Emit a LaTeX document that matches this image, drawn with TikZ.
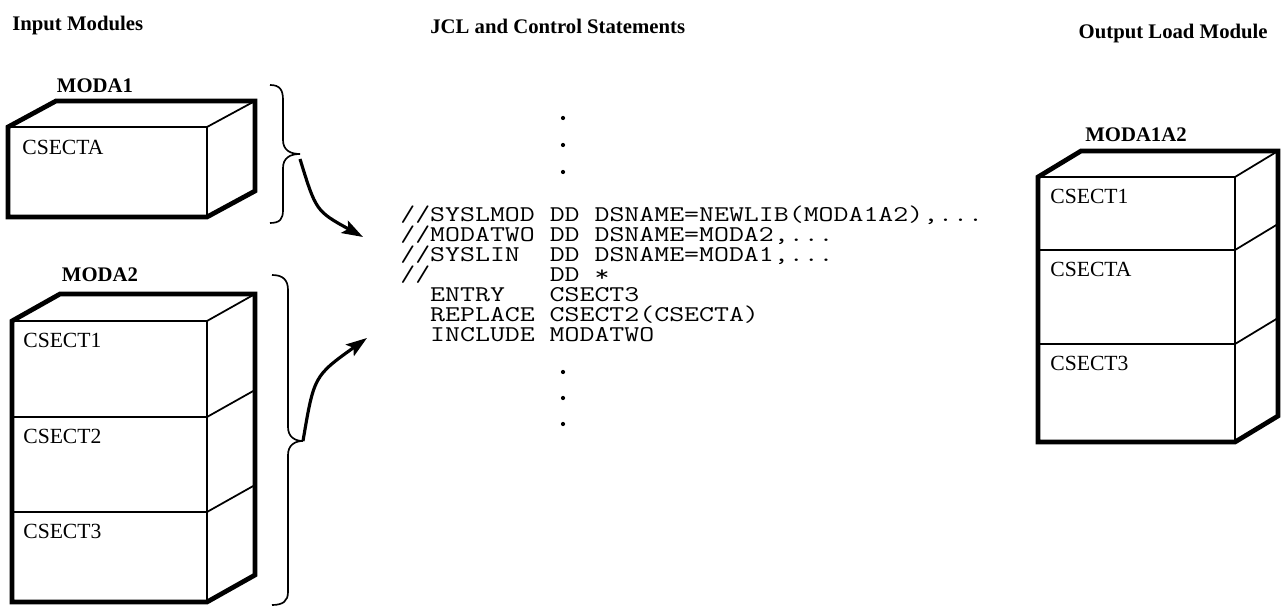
\documentclass[tikz,border=0pt]{standalone}
\usepackage{fontspec}
\usepackage{graphicx}
\setmainfont{Liberation Serif}
\usetikzlibrary{arrows.meta}
\newcommand\cw[1]{\scalebox{1.29}[1]{#1}}
\begin{document}
\begin{tikzpicture}[x=0.02cm,y=-0.02cm,
  outline/.style={line width=2.7pt, line join=miter},
  topedge/.style={line width=1.7pt},
  inner/.style={line width=1pt},
  hdr/.style={font=\bfseries\fontsize{11.8}{13}\selectfont, inner sep=0pt},
  ttl/.style={font=\bfseries\fontsize{11.8}{14}\selectfont, inner sep=0pt},
  sect/.style={font=\fontsize{12.3}{14}\selectfont, inner sep=0pt, anchor=west},
  code/.style={font=\ttfamily\fontsize{12.8}{15}\selectfont, inner sep=0pt, anchor=base west, text height=8pt, text depth=1.5pt},
  brace/.style={line width=0.95pt},
  flow/.style={line width=1.8pt, -{Stealth[length=12pt,width=8pt,inset=2.5pt]}},
  dot/.style={fill=black}
]
\useasboundingbox (0,0) rectangle (1284,607);

% headers
\node[hdr, anchor=west] (hin) at (12,26) {Input Modules};
\node[hdr, anchor=west] (hjcl) at (430,26) {JCL and Control Statements};
\node[hdr, anchor=east] (hout) at (1268,34) {Output Load Module};

% MODA1 box
\draw[inner] (207,127) -- (255,101);
\draw[inner] (207,127) -- (207,217);
\draw[topedge] (8,127) -- (207,127);
\draw[outline] (8,217) -- (8,127) -- (56,101) -- (255,101) -- (255,191) -- (207,217) -- cycle;
\node[ttl] (m1) at (95,86) {MODA1};
\node[sect] (m1a) at (22,147) {CSECTA};

% MODA2 box
\draw[inner] (207,321) -- (255,294);
\draw[inner] (207,321) -- (207,602);
\draw[inner] (12,417) -- (207,417) -- (255,390);
\draw[inner] (12,512) -- (207,512) -- (255,485);
\draw[topedge] (12,321) -- (207,321);
\draw[outline] (12,602) -- (12,321) -- (60,294) -- (255,294) -- (255,575) -- (207,602) -- cycle;
\node[ttl] (m2) at (100,275) {MODA2};
\node[sect] (m2a) at (23,340) {CSECT1};
\node[sect] (m2b) at (23,436) {CSECT2};
\node[sect] (m2c) at (23,531) {CSECT3};

% MODA1A2 box
\draw[inner] (1235,177) -- (1278,151);
\draw[inner] (1235,177) -- (1235,442);
\draw[inner] (1038,250) -- (1235,250) -- (1278,224);
\draw[inner] (1038,344) -- (1235,344) -- (1278,318);
\draw[topedge] (1038,177) -- (1235,177);
\draw[outline] (1038,442) -- (1038,177) -- (1081,151) -- (1278,151) -- (1278,416) -- (1235,442) -- cycle;
\node[ttl] (m3) at (1136,135) {MODA1A2};
\node[sect] (m3a) at (1050,196) {CSECT1};
\node[sect] (m3b) at (1050,269) {CSECTA};
\node[sect] (m3c) at (1050,363) {CSECT3};

% braces
\coordinate (b1) at (300,154);
\draw[brace] (270,85) .. controls (280,85) and (283,90) .. (283,100) -- (283,140)
  .. controls (283,150) and (290,154) .. (b1)
  .. controls (290,154) and (283,158) .. (283,168) -- (283,210)
  .. controls (283,219) and (280,223) .. (270,223);
\coordinate (b2) at (303,441);
\draw[brace] (272,275) .. controls (283,275) and (288,280) .. (288,290) -- (288,427)
  .. controls (288,437) and (295,441) .. (b2)
  .. controls (295,441) and (288,445) .. (288,455) -- (288,592)
  .. controls (288,601) and (283,605) .. (272,605);

% code
\fill[dot] (563,118) circle[radius=1.2pt];
\fill[dot] (563,145) circle[radius=1.2pt];
\fill[dot] (563,172) circle[radius=1.2pt];
\node[code] (c1) at (400,222) {\cw{//SYSLMOD~DD~DSNAME=NEWLIB(MODA1A2),...}};
\node[code] (c2) at (400,242) {\cw{//MODATWO~DD~DSNAME=MODA2,...}};
\node[code] (c3) at (400,262) {\cw{//SYSLIN~~DD~DSNAME=MODA1,...}};
\node[code] (c4) at (400,282) {\cw{//~~~~~~~~DD~*}};
\node[code] (c5) at (400,302) {\cw{~~ENTRY~~~CSECT3}};
\node[code] (c6) at (400,322) {\cw{~~REPLACE~CSECT2(CSECTA)}};
\node[code] (c7) at (400,342) {\cw{~~INCLUDE~MODATWO}};
\fill[dot] (563,372) circle[radius=1.2pt];
\fill[dot] (563,398) circle[radius=1.2pt];
\fill[dot] (563,424) circle[radius=1.2pt];

% arrows
\coordinate (a1) at (363,237);
\coordinate (a2) at (367,338);
\draw[flow] ([yshift=-0.1cm]b1) .. controls (316,211) .. (a1);
\draw[flow] (b2) .. controls (314,376) .. (a2);
\end{tikzpicture}
\end{document}
